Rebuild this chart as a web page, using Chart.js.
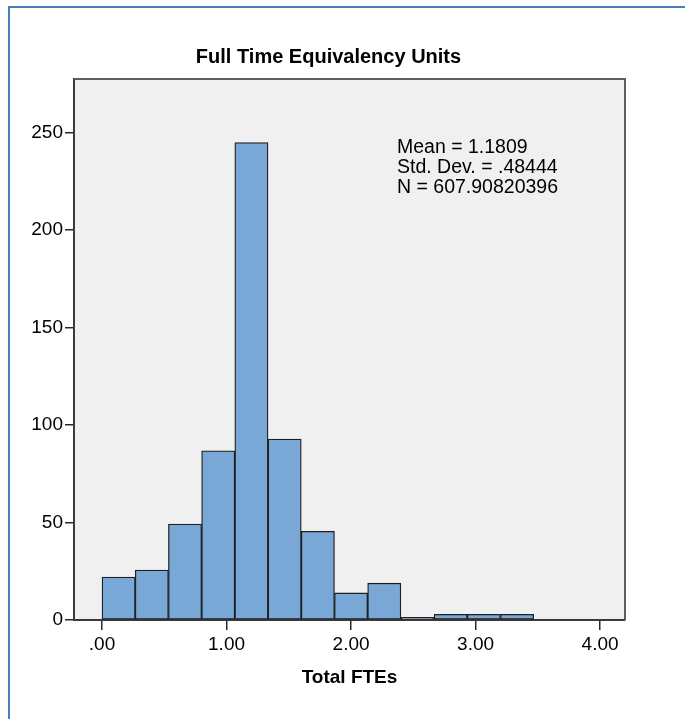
<!DOCTYPE html>
<html>
<head>
<meta charset="utf-8">
<script src="https://cdn.jsdelivr.net/npm/chart.js@4"></script>
<style>
  html, body { margin: 0; padding: 0; background: #ffffff; }
  #wrap { position: relative; width: 685px; height: 719px; overflow: hidden; }
  #c { position: absolute; left: 0; top: 0; }
  .bl { position: absolute; background: #4a7ebb; }
</style>
</head>
<body>
<div id="wrap">
  <canvas id="c" width="685" height="719"></canvas>
  <div class="bl" style="left:8px; top:6px; width:677px; height:2px;"></div>
  <div class="bl" style="left:8px; top:6px; width:2px; height:713px;"></div>
</div>
<script>
// ---- data ----
const binStart = 0;
const binWidth = 4 / 15;
const counts = [22, 25.6, 49.2, 86.8, 245, 92.8, 45.5, 13.9, 18.9, 1.4, 2.9, 2.9, 2.9];
const xTickValues = [0, 1, 2, 3, 4];
const xTickLabels = ['.00', '1.00', '2.00', '3.00', '4.00'];
const yTickValues = [0, 50, 100, 150, 200, 250];
const statsLines = ['Mean = 1.1809', 'Std. Dev. = .48444', 'N = 607.90820396'];
const chartTitle = 'Full Time Equivalency Units';
const xAxisTitle = 'Total FTEs';

const barData = counts.map((v, i) => ({ x: binStart + binWidth * (i + 0.5), y: v }));
const FONT = "'Liberation Sans', Arial, sans-serif";

const framePlugin = {
  id: 'frame',
  beforeDraw(chart) {
    const { ctx, chartArea: a } = chart;
    ctx.save();
    ctx.fillStyle = '#f0f0f0';
    ctx.fillRect(a.left, a.top, a.right - a.left, a.bottom - a.top);
    ctx.restore();
  },
  afterDraw(chart) {
    const { ctx, chartArea: a } = chart;
    ctx.save();
    ctx.strokeStyle = '#5e5e5e';
    ctx.lineWidth = 2;
    ctx.beginPath();
    ctx.moveTo(a.left, a.top);
    ctx.lineTo(a.right, a.top);
    ctx.lineTo(a.right, a.bottom);
    ctx.stroke();
    // stats text
    ctx.fillStyle = '#000000';
    ctx.font = '19.5px ' + FONT;
    ctx.textAlign = 'left';
    ctx.textBaseline = 'alphabetic';
    statsLines.forEach((t, i) => {
      ctx.fillText(t, a.left + 323, a.top + 74 + i * 20.2);
    });
    ctx.restore();
  }
};

new Chart(document.getElementById('c'), {
  type: 'bar',
  data: {
    datasets: [{
      data: barData,
      backgroundColor: '#79a7d6',
      borderColor: '#1f1f1f',
      borderWidth: 1.3,
      barPercentage: 1,
      categoryPercentage: 1,
      borderSkipped: false
    }]
  },
  options: {
    responsive: false,
    animation: false,
    devicePixelRatio: 1,
    layout: { padding: { left: 32, right: 60, top: 0, bottom: 0 } },
    plugins: {
      legend: { display: false },
      tooltip: { enabled: false },
      title: {
        display: true,
        text: chartTitle,
        color: '#000000',
        font: { family: FONT, size: 20, weight: 'bold', lineHeight: 1.2 },
        padding: { top: 45, bottom: 10 }
      }
    },
    scales: {
      x: {
        type: 'linear',
        min: -0.225,
        max: 4.2,
        offset: false,
        afterBuildTicks(s) { s.ticks = xTickValues.map(v => ({ value: v })); },
        afterFit(s) { s.height = 99; },
        ticks: {
          callback(v) { const i = xTickValues.indexOf(v); return i >= 0 ? xTickLabels[i] : ''; },
          color: '#000000',
          font: { family: FONT, size: 19 },
          padding: 3,
          maxRotation: 0,
          autoSkip: false
        },
        grid: { offset: false, drawOnChartArea: false, drawTicks: true, tickLength: 10, color: '#2a2a2a', lineWidth: 1.5 },
        border: { display: true, color: '#3a3a3a', width: 2 },
        title: {
          display: true,
          text: xAxisTitle,
          color: '#000000',
          font: { family: FONT, size: 19, weight: 'bold', lineHeight: 1.2 },
          padding: { top: 0, bottom: 30 }
        }
      },
      y: {
        type: 'linear',
        min: 0,
        max: 277.6,
        afterBuildTicks(s) { s.ticks = yTickValues.map(v => ({ value: v })); },
        afterFit(s) { s.width = 42; },
        ticks: {
          color: '#000000',
          font: { family: FONT, size: 19 },
          padding: 2,
          autoSkip: false
        },
        grid: { offset: false, drawOnChartArea: false, drawTicks: true, tickLength: 9, color: '#2a2a2a', lineWidth: 1.5 },
        border: { display: true, color: '#3a3a3a', width: 2 }
      }
    }
  },
  plugins: [framePlugin]
});
</script>
</body>
</html>
